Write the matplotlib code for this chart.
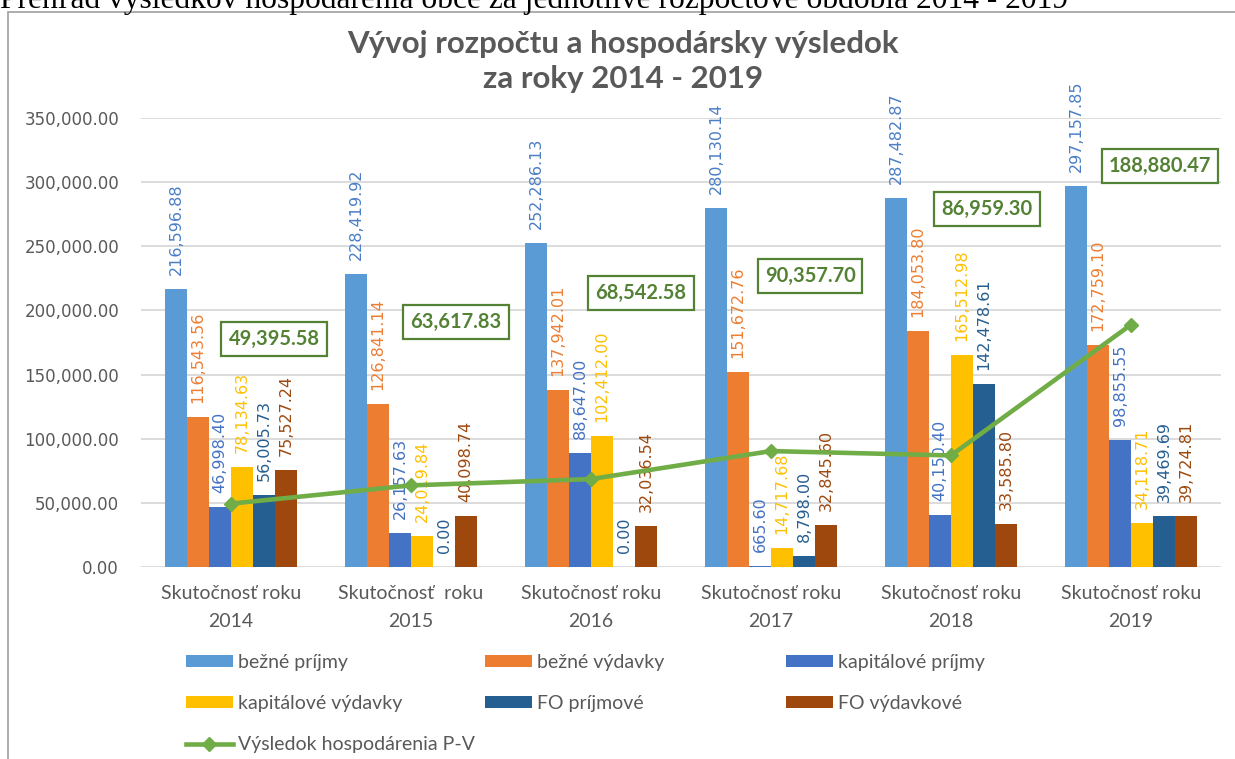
import matplotlib
matplotlib.use('Agg')
import matplotlib.pyplot as plt
import numpy as np
from matplotlib.patches import Rectangle, Patch
from matplotlib.lines import Line2D

# ---------------- data ----------------
categories = ['Skutočnosť roku\n2014', 'Skutočnosť  roku\n2015', 'Skutočnosť roku\n2016',
              'Skutočnosť roku\n2017', 'Skutočnosť roku\n2018', 'Skutočnosť roku\n2019']
series_names = ['bežné príjmy', 'bežné výdavky', 'kapitálové príjmy',
                'kapitálové výdavky', 'FO príjmové', 'FO výdavkové']
line_name = 'Výsledok hospodárenia P-V'

bezne_prijmy = [216596.88, 228419.92, 252286.13, 280130.14, 287482.87, 297157.85]
bezne_vydavky = [116543.56, 126841.14, 137942.01, 151672.76, 184053.80, 172759.10]
kapitalove_prijmy = [46998.40, 26157.63, 88647.00, 665.60, 40150.40, 98855.55]
kapitalove_vydavky = [78134.63, 24019.84, 102412.00, 14717.68, 165512.98, 34118.71]
fo_prijmove = [56005.73, 0.00, 0.00, 8798.00, 142478.61, 39469.69]
fo_vydavkove = [75527.24, 40098.74, 32036.54, 32845.60, 33585.80, 39724.81]
vysledok = [49395.58, 63617.83, 68542.58, 90357.70, 86959.30, 188880.47]

y_ticks = [0, 50000, 100000, 150000, 200000, 250000, 300000, 350000]

title_line1 = 'Vývoj rozpočtu a hospodársky výsledok'
title_line2 = 'za roky 2014 - 2019'
header = 'Prehľad výsledkov hospodárenia obce za jednotlivé rozpočtové obdobia 2014 - 2019'

# ---------------- styles ----------------
bar_colors = ['#5B9BD5', '#ED7D31', '#4472C4', '#FFC000', '#255E91', '#9E480E']
label_colors = ['#4A7EC6', '#ED7D31', '#4472C4', '#FFC000', '#255E91', '#9E480E']
line_color = '#70AD47'
box_color = '#548235'
text_gray = '#595959'
# box label offsets (pixels) relative to the line points
box_offsets = [(43, 165), (45, 163), (50, 186), (39, 175), (36, 246), (29, 159)]

W, H = 1235, 759
fig = plt.figure(figsize=(W / 100, H / 100), dpi=100)
fig.patch.set_facecolor('white')


def fx(px):
    return px / W


def fy(py):
    return 1 - py / H


# header text (cut at top in the reference) and chart frame
fig.text(0, fy(8), header, family='Liberation Serif', fontsize=22.7, color='black',
         ha='left', va='baseline')
fig.patches.append(Rectangle((fx(8), fy(800)), 2, fy(12) - fy(800), transform=fig.transFigure,
                             facecolor='none', edgecolor='#A6A6A6', lw=1.3, clip_on=False))

fig.text(fx(623), fy(53), title_line1, family='Lato', fontweight='bold', fontsize=22.5,
         color=text_gray, ha='center', va='baseline')
fig.text(fx(623), fy(88), title_line2, family='Lato', fontweight='bold', fontsize=22.5,
         color=text_gray, ha='center', va='baseline')

ax = fig.add_axes([fx(141), fy(567), 1080 / W, 449 / H])
x = np.arange(len(categories))
bw = 22 / 180
series = [bezne_prijmy, bezne_vydavky, kapitalove_prijmy, kapitalove_vydavky, fo_prijmove, fo_vydavkove]

handles = []
for i, (vals, name, c, lc) in enumerate(zip(series, series_names, bar_colors, label_colors)):
    pos = x + (i - 2.5) * bw
    ax.bar(pos, vals, bw, color=c, zorder=2, label=name)
    handles.append(Patch(facecolor=c, edgecolor='none', label=name))
    for xi, v in zip(pos, vals):
        ax.annotate(f'{v:,.2f}', (xi, v), xytext=(0, 14), textcoords='offset pixels',
                    rotation=90, ha='center', va='bottom', color=lc, fontsize=11.5,
                    family='DejaVu Sans', zorder=3)

ax.plot(x, vysledok, color=line_color, lw=3.3, marker='D', ms=7, zorder=5,
        solid_capstyle='round')
line_handle = Line2D([], [], color=line_color, lw=3.3, marker='D', ms=7)

for xi, v, (dx, dy) in zip(x, vysledok, box_offsets):
    ax.annotate(f'{v:,.2f}', (xi, v), xytext=(dx, dy), textcoords='offset pixels',
                ha='center', va='center', color=box_color, fontsize=14.5,
                family='Lato', fontweight='bold', zorder=6,
                bbox=dict(boxstyle='square,pad=0.35', facecolor='white',
                          edgecolor=box_color, lw=1.6))

ax.set_xlim(-0.5, 5.5)
ax.set_ylim(0, 350000)
ax.set_yticks(y_ticks)
ax.set_yticklabels([f'{t:,.2f}' for t in y_ticks], family='DejaVu Sans', fontsize=12,
                   color=text_gray)
ax.set_xticks(x)
ax.set_xticklabels(categories, family='Lato', fontsize=14, color=text_gray, linespacing=1.75)
ax.yaxis.grid(True, color='#D9D9D9', lw=1.3, zorder=0)
ax.set_axisbelow(True)
for s in ax.spines.values():
    s.set_visible(False)
ax.tick_params(axis='y', length=0, pad=15.8)
ax.tick_params(axis='x', length=0, pad=13)

# legend: three columns placed separately
all_handles = handles + [line_handle]
all_labels = series_names + [line_name]
cols = [[0, 3, 6], [1, 4], [2, 5]]
col_x = [186, 485, 786]
for idx, cx in zip(cols, col_x):
    fig.legend([all_handles[k] for k in idx], [all_labels[k] for k in idx],
               loc='upper left', bbox_to_anchor=(fx(cx), fy(654)),
               bbox_transform=fig.transFigure, frameon=False,
               prop={'family': 'Lato', 'size': 14}, labelcolor=text_gray,
               handlelength=2.4, handleheight=0.52, handletextpad=0.26,
               labelspacing=1.23, borderpad=0, borderaxespad=0, numpoints=1)

fig.savefig('out.png', dpi=100)
